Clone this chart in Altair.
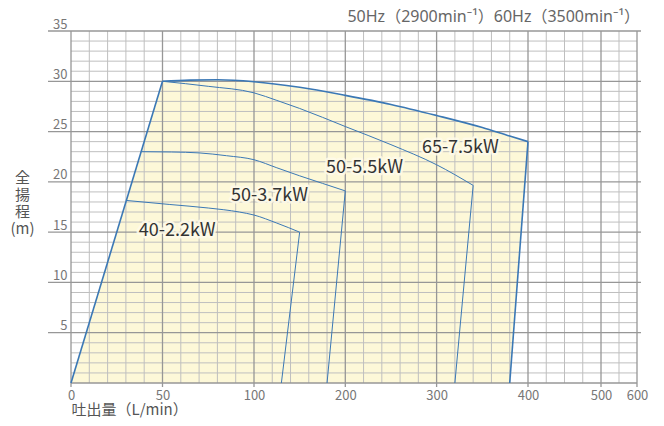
import altair as alt
import pandas as pd

FONT = "Noto Sans CJK JP"
TITLE_FONT = "Noto Sans, DejaVu Sans, Noto Sans CJK JP"
W, H = 566, 352

# ---- axis / grid values ----
x_major = [0, 50, 100, 200, 300, 400, 500, 600]
x_range_px = [0, 91.5, 183, 274.3, 365.6, 457, 530, 566]   # piecewise scale range
x_minor = [10, 20, 30, 40, 60, 70, 80, 90, 120, 140, 160, 180, 220, 240, 260, 280,
           320, 340, 360, 380, 425, 450, 475, 550]
y_major = [5, 10, 15, 20, 25, 30, 35]
y_base = [0]
y_minor = [v for v in range(1, 35) if v % 5 != 0]

# ---- pump curves (flow L/min, head m) ----
q_75 = [50, 65, 80, 100, 150, 200, 250, 300, 350, 380, 400]
h_75 = [30.0, 30.12, 30.15, 29.96, 29.4, 28.6, 27.7, 26.6, 25.4, 24.55, 24.0]
q_55 = [50, 75, 100, 125, 150, 200, 250, 300, 340]
h_55 = [30.0, 29.5, 28.85, 28.1, 27.3, 25.5, 23.7, 21.7, 19.65]
q_37 = [38.5, 55, 70, 85, 100, 125, 150, 175, 200]
h_37 = [23.0, 22.97, 22.88, 22.6, 22.2, 21.4, 20.6, 19.85, 19.1]
q_22 = [30.3, 54, 75, 92, 100, 125, 150]
h_22 = [18.15, 17.75, 17.4, 17.0, 16.7, 15.9, 15.0]
q_zero = [380, 320, 180, 130]           # flow where each end line reaches 0 m
left_line_q = [0, 50]
left_line_h = [0, 30]

labels = ["65-7.5kW", "50-5.5kW", "50-3.7kW", "40-2.2kW"]
label_q = [326, 221, 117, 58]
label_h = [23.4, 21.35, 18.57, 15.16]

title_text = ["50Hz（2900min⁻¹）60Hz（3500min⁻¹）"]

# ---- tables ----
curves = [(labels[0], q_75, h_75), (labels[1], q_55, h_55),
          (labels[2], q_37, h_37), (labels[3], q_22, h_22)]
curve_rows = []
for name, qs, hs in curves:
    for i, (q, h) in enumerate(zip(qs, hs)):
        curve_rows.append({"s": name, "q": q, "h": h, "o": i, "w": 1.6 if name == labels[0] else 1.0})
curve_df = pd.DataFrame(curve_rows)

seg_rows = []
for (name, qs, hs), qz in zip(curves, q_zero):
    seg_rows.append({"s": name, "q": qs[-1], "h": hs[-1], "o": 0, "w": 1.6 if name == labels[0] else 1.0})
    seg_rows.append({"s": name, "q": qz, "h": 0, "o": 1, "w": 1.6 if name == labels[0] else 1.0})
for i, (q, h) in enumerate(zip(left_line_q, left_line_h)):
    seg_rows.append({"s": "left", "q": q, "h": h, "o": i, "w": 1.6})
seg_df = pd.DataFrame(seg_rows)

area_q = left_line_q[:1] + q_75
area_h = left_line_h[:1] + h_75
area_h2 = [0 if q <= q_zero[0] else h for q, h in zip(area_q, area_h)]
area_df = pd.DataFrame({"q": area_q, "h": area_h, "h2": area_h2})

lab_df = pd.DataFrame({"t": labels, "q": label_q, "h": label_h})

xs = alt.Scale(domain=x_major, range=x_range_px, nice=False, zero=False)
ys = alt.Scale(domain=[0, 35], nice=False, zero=False)

x_axis = alt.Axis(values=x_major, labelFontSize=13, labelColor="#777", labelPadding=6,
                  labelFlush=False, labelFont=FONT, title="吐出量（L/min）", titleFont=FONT,
                  titleFontSize=15, titleFontWeight="normal", titleColor="#555",
                  titleAnchor="start", titleAlign="left", titleBaseline="top",
                  titleX=0, titleY=19)
y_axis = alt.Axis(values=y_major, labelFontSize=13, labelColor="#777", labelPadding=4,
                  labelFont=FONT, labelBaseline="alphabetic", labelOffset=-3, labelAlign="right",
                  labelFlush=False,
                  title=["全", "揚", "程", "(m)"], titleAngle=0, titleAlign="center",
                  titleBaseline="top", titleX=-49, titleY=139, titleLineHeight=17,
                  titleFont=FONT, titleFontSize=15, titleFontWeight="normal", titleColor="#555")

area = alt.Chart(area_df).mark_area(color="#fdf8d8", interpolate="linear").encode(
    x=alt.X("q:Q", scale=xs, axis=x_axis),
    y=alt.Y("h:Q", scale=ys, axis=y_axis),
    y2="h2:Q",
)

MINOR = "#bfbfbf"
MAJOR = "#979797"

vminor = alt.Chart(pd.DataFrame({"v": x_minor})).mark_rule(color=MINOR, strokeWidth=1).encode(
    x=alt.X("v:Q", scale=xs), y=alt.value(0), y2=alt.value(H))
hminor = alt.Chart(pd.DataFrame({"v": y_minor})).mark_rule(color=MINOR, strokeWidth=1).encode(
    y=alt.Y("v:Q", scale=ys), x=alt.value(0), x2=alt.value(W))
vmajor = alt.Chart(pd.DataFrame({"v": x_major})).mark_rule(color=MAJOR, strokeWidth=1.3).encode(
    x=alt.X("v:Q", scale=xs), y=alt.value(0), y2=alt.value(H + 4))
hmajor = alt.Chart(pd.DataFrame({"v": y_major})).mark_rule(color=MAJOR, strokeWidth=1.3).encode(
    y=alt.Y("v:Q", scale=ys), x=alt.value(-23), x2=alt.value(W + 4))
hbase = alt.Chart(pd.DataFrame({"v": y_base})).mark_rule(color=MAJOR, strokeWidth=1.3).encode(
    y=alt.Y("v:Q", scale=ys), x=alt.value(0), x2=alt.value(W))

BLUE = "#3b78b5"
curve_lines = alt.Chart(curve_df).mark_line(color=BLUE, interpolate="monotone").encode(
    x=alt.X("q:Q", scale=xs), y=alt.Y("h:Q", scale=ys), detail="s:N", order="o:Q",
    strokeWidth=alt.StrokeWidth("w:Q", scale=None))
seg_lines = alt.Chart(seg_df).mark_line(color=BLUE).encode(
    x=alt.X("q:Q", scale=xs), y=alt.Y("h:Q", scale=ys), detail="s:N", order="o:Q",
    strokeWidth=alt.StrokeWidth("w:Q", scale=None))

halo = alt.Chart(lab_df).mark_text(font=FONT, fontSize=18, fill="#fffbea", stroke="#fffbea",
                                   strokeWidth=5, strokeJoin="round", opacity=0.85).encode(
    x=alt.X("q:Q", scale=xs), y=alt.Y("h:Q", scale=ys), text="t:N")
texts = alt.Chart(lab_df).mark_text(font=FONT, fontSize=18, color="#333").encode(
    x=alt.X("q:Q", scale=xs), y=alt.Y("h:Q", scale=ys), text="t:N")

title = alt.Chart(pd.DataFrame({"t": title_text})).mark_text(
    font=TITLE_FONT, fontSize=16, color="#666", align="right", baseline="middle").encode(
    text="t:N", x=alt.value(W + 3), y=alt.value(-14))

chart = alt.layer(area, vminor, hminor, vmajor, hmajor, hbase, curve_lines, seg_lines,
                  halo, texts, title).properties(
    width=W, height=H,
    autosize=alt.AutoSizeParams(type="none"),
    padding={"left": 63, "top": 23, "right": 19, "bottom": 35},
).configure_axis(grid=False, domain=False, ticks=False).configure_view(stroke=None)

chart.save("out.html", embed_options={"renderer": "svg", "actions": False})
